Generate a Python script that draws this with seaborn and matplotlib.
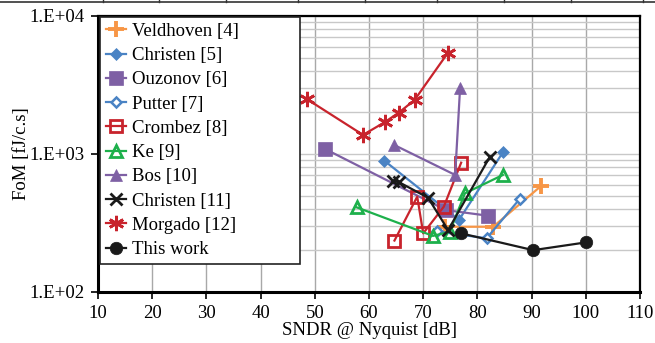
import matplotlib
matplotlib.use("Agg")
from matplotlib import pyplot as plt
from matplotlib.lines import Line2D
from matplotlib.ticker import FixedLocator, FixedFormatter, NullLocator, LogLocator
import seaborn as sns
import pandas as pd

# data
names = ["Veldhoven [4]", "Christen [5]", "Ouzonov [6]", "Putter [7]", "Crombez [8]",
         "Ke [9]", "Bos [10]", "Christen [11]", "Morgado [12]", "This work"]
veldhoven_x = [74.0, 82.9, 91.8]
veldhoven_y = [297, 297, 589]
christen5_x = [62.8, 76.6, 84.7]
christen5_y = [896, 333, 1028]
ouzonov_x = [51.9, 74.2, 82.0]
ouzonov_y = [1087, 392, 357]
putter_x = [72.5, 81.7, 87.8]
putter_y = [275, 245, 472]
crombez_x = [64.7, 68.9, 70.0, 73.8, 77.0]
crombez_y = [236, 491, 266, 415, 865]
ke_x = [57.7, 71.8, 74.9, 77.7, 84.7]
ke_y = [411, 255, 273, 519, 705]
bos_x = [64.7, 75.9, 76.8]
bos_y = [1160, 705, 2990]
christen11_x = [64.4, 65.6, 70.9, 74.6, 82.3]
christen11_y = [637, 623, 482, 281, 955]
morgado_x = [48.6, 58.9, 62.9, 65.5, 68.4, 74.5]
morgado_y = [2490, 1375, 1700, 1995, 2460, 5370]
thiswork_x = [77.0, 90.3, 100.1]
thiswork_y = [266, 201, 229]

xs = [veldhoven_x, christen5_x, ouzonov_x, putter_x, crombez_x,
      ke_x, bos_x, christen11_x, morgado_x, thiswork_x]
ys = [veldhoven_y, christen5_y, ouzonov_y, putter_y, crombez_y,
      ke_y, bos_y, christen11_y, morgado_y, thiswork_y]

x_ticks = [10, 20, 30, 40, 50, 60, 70, 80, 90, 100, 110]
y_ticks = [100, 1000, 10000]
y_ticklabels = ["1.E+02", "1.E+03", "1.E+04"]

rows = []
for n, xx, yy in zip(names, xs, ys):
    for i, (a, b) in enumerate(zip(xx, yy)):
        rows.append({"series": n, "order": i, "SNDR": a, "FoM": b})
df = pd.DataFrame(rows)

orange = "#F79646"
blue = "#4A83C4"
purple = "#7E60A4"
red = "#C8232C"
green = "#1DB04B"
black = "#1A1A1A"

styles = {
    "Veldhoven [4]": dict(color=orange, marker="+", markersize=11, markeredgewidth=2.8),
    "Christen [5]": dict(color=blue, marker="D", markersize=6.5, markeredgewidth=0.5),
    "Ouzonov [6]": dict(color=purple, marker="s", markersize=10.5, markeredgewidth=0.5),
    "Putter [7]": dict(color=blue, marker="D", markersize=5.5, markeredgewidth=1.8,
                       markerfacecolor="white"),
    "Crombez [8]": dict(color=red, marker="s", markersize=8, markeredgewidth=2,
                        markerfacecolor="none"),
    "Ke [9]": dict(color=green, marker="^", markersize=8.5, markeredgewidth=2,
                   markerfacecolor="none"),
    "Bos [10]": dict(color=purple, marker="^", markersize=8, markeredgewidth=0.5),
    "Christen [11]": dict(color=black, marker="x", markersize=9, markeredgewidth=2),
    "Morgado [12]": dict(color=red, marker=(6, 2, 0), markersize=11, markeredgewidth=2),
    "This work": dict(color=black, marker="o", markersize=9, markeredgewidth=0.5),
}

plt.rcParams["font.family"] = ["Liberation Serif", "DejaVu Serif"]
plt.rcParams["font.size"] = 13.5

fig = plt.figure(figsize=(6.55, 3.43), dpi=100)
ax = fig.add_axes([98 / 655, 51 / 343, 542 / 655, 276 / 343])

for n in names:
    sub = df[df["series"] == n].sort_values("order")
    st = styles[n]
    sns.lineplot(data=sub, x="SNDR", y="FoM", sort=False, ax=ax, label=n,
                 color=st["color"], marker=st["marker"], markersize=st["markersize"],
                 markeredgewidth=st["markeredgewidth"], markeredgecolor=st["color"],
                 markerfacecolor=st.get("markerfacecolor", st["color"]),
                 linewidth=1.6, zorder=3)

ax.set_yscale("log")
ax.set_xlim(10, 110)
ax.set_ylim(100, 10000)
ax.xaxis.set_major_locator(FixedLocator(x_ticks))
ax.yaxis.set_major_locator(FixedLocator(y_ticks))
ax.yaxis.set_major_formatter(FixedFormatter(y_ticklabels))
ax.yaxis.set_minor_locator(LogLocator(base=10, subs=range(2, 10)))
ax.yaxis.set_minor_formatter(plt.NullFormatter())
ax.xaxis.set_minor_locator(NullLocator())

ax.grid(axis="x", which="major", color="#A8A8A8", linewidth=1)
ax.grid(axis="y", which="both", color="#C8C8C8", linewidth=1)
ax.set_axisbelow(True)
ax.tick_params(axis="both", which="major", direction="out", length=5, width=1.2,
               color="black", labelsize=13.5, pad=4.5)
ax.tick_params(axis="y", which="minor", length=0)

for s in ["left", "bottom"]:
    ax.spines[s].set_linewidth(2.2)
for s in ["top", "right"]:
    ax.spines[s].set_linewidth(1.6)
for s in ax.spines.values():
    s.set_color("black")

ax.set_xlabel("SNDR @ Nyquist [dB]", fontsize=13.5, labelpad=0)
ax.set_ylabel("FoM [fJ/c.s]", fontsize=13.5, labelpad=0)

leg = ax.legend(loc="upper left", bbox_to_anchor=(0.004, 0.996, 0.369, 0.0), mode="expand",
                frameon=True, fancybox=False, edgecolor="#222222", framealpha=1,
                fontsize=13.5, labelspacing=0.38, handlelength=1.1, handletextpad=0.3,
                borderpad=0.3, borderaxespad=0.0)
leg.get_frame().set_linewidth(1.2)
leg.set_zorder(5)

# fragment of the table row above the chart
fig.add_artist(Line2D([0, 1], [1 - 2 / 343, 1 - 2 / 343], color="#333333", linewidth=1.2))
for px in [103, 159, 226, 298, 365, 437, 504, 571, 643]:
    fig.add_artist(Line2D([px / 655, px / 655], [1 - 2 / 343, 1], color="#333333", linewidth=1))

fig.savefig("out.png", dpi=100)
